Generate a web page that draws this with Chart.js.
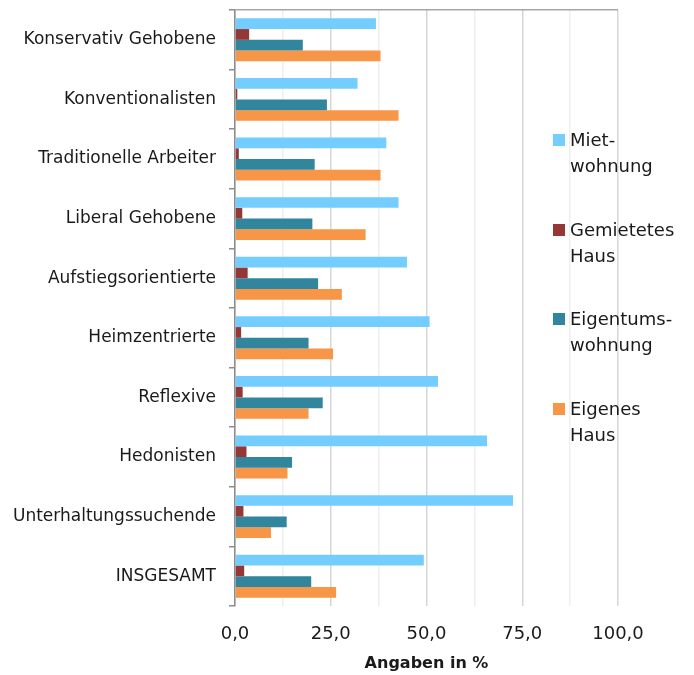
<!DOCTYPE html>
<html>
<head>
<meta charset="utf-8">
<script src="https://cdn.jsdelivr.net/npm/chart.js@4.4.0/dist/chart.umd.min.js"></script>
<style>
  html, body { margin: 0; padding: 0; background: #fff; }
  #wrap { position: relative; width: 694px; height: 675px; }
  #legend { position: absolute; left: 553px; top: 0; font-family: "DejaVu Sans", sans-serif; font-size: 18px; color: #1a1a1a; }
  .item { position: absolute; left: 0; display: flex; align-items: flex-start; width: 140px; }
  .box { width: 12px; height: 12px; margin-top: 1px; flex: none; }
  .txt { margin-left: 5px; line-height: 26px; margin-top: -6px; white-space: pre; }
</style>
</head>
<body>
<div id="wrap">
  <canvas id="chart"></canvas>
  <div id="legend"></div>
</div>
<script>
// --- data ---
const categories = ['Konservativ Gehobene', 'Konventionalisten', 'Traditionelle Arbeiter', 'Liberal Gehobene',
  'Aufstiegsorientierte', 'Heimzentrierte', 'Reflexive', 'Hedonisten', 'Unterhaltungssuchende', 'INSGESAMT'];
const seriesNames = ['Miet-\nwohnung', 'Gemietetes\nHaus', 'Eigentums-\nwohnung', 'Eigenes\nHaus'];
const mietwohnung    = [36.8, 32.0, 39.5, 42.7, 44.9, 50.8, 53.0, 65.8, 72.6, 49.3];
const gemietetesHaus = [3.7, 0.6, 1.0, 1.9, 3.3, 1.6, 2.0, 3.0, 2.2, 2.4];
const eigentumsWhg   = [17.7, 24.0, 20.8, 20.2, 21.7, 19.2, 22.9, 14.9, 13.5, 19.9];
const eigenesHaus    = [38.0, 42.7, 38.0, 34.1, 27.9, 25.6, 19.2, 13.7, 9.4, 26.4];
const xTicks = [0, 25, 50, 75, 100];

const COLORS = ['#73CEFF', '#953735', '#31859C', '#F79646'];
const FONT = '"DejaVu Sans", sans-serif';
const values = [mietwohnung, gemietetesHaus, eigentumsWhg, eigenesHaus];

const datasets = values.map((data, i) => ({
  label: seriesNames[i].replace('\n', ' '),
  data,
  backgroundColor: COLORS[i],
  borderWidth: 0,
  categoryPercentage: 0.72,
  barPercentage: 1.0
}));

new Chart(document.getElementById('chart'), {
  type: 'bar',
  data: { labels: categories, datasets },
  options: {
    indexAxis: 'y',
    responsive: true,
    maintainAspectRatio: false,
    animation: false,
    layout: { padding: { top: 10, right: 76, bottom: 0, left: 0 } },
    plugins: { legend: { display: false }, tooltip: { enabled: false } },
    scales: {
      x: {
        min: 0, max: 100,
        afterFit: s => { s.height = 69; },
        border: { display: false },
        grid: {
          drawTicks: false,
          lineWidth: 1.5,
          color: ctx => (xTicks.includes(ctx.tick && ctx.tick.value) ? '#d6d6d6' : '#efefef')
        },
        ticks: {
          stepSize: 12.5, autoSkip: false, maxRotation: 0, padding: 18,
          color: '#1a1a1a', font: { family: FONT, size: 18 },
          callback: v => (xTicks.includes(v) ? v.toFixed(1).replace('.', ',') : '')
        },
        title: {
          display: true, text: 'Angaben in %', color: '#1a1a1a',
          font: { family: FONT, size: 16, weight: 'bold' }, padding: { top: 0, bottom: 2 }
        }
      },
      y: {
        afterFit: s => { s.width = 235; s.paddingTop = 0; s.paddingBottom = 0; },
        border: { display: true, color: '#8c8c8c', width: 1.5 },
        grid: {
          offset: true,
          tickLength: 6,
          lineWidth: 1.5,
          tickColor: '#8c8c8c',
          color: ctx => (ctx.index === 0 ? '#a6a6a6' : 'rgba(0,0,0,0)')
        },
        ticks: { padding: 13, color: '#1a1a1a', font: { family: FONT, size: 17 } }
      }
    }
  }
});

// legend with two-line labels
const legendTops = [133, 223, 312, 402];
const legend = document.getElementById('legend');
seriesNames.forEach((name, i) => {
  const item = document.createElement('div');
  item.className = 'item';
  item.style.top = legendTops[i] + 'px';
  item.innerHTML = '<div class="box" style="background:' + COLORS[i] + '"></div><div class="txt"></div>';
  item.querySelector('.txt').textContent = name;
  legend.appendChild(item);
});
</script>
</body>
</html>
